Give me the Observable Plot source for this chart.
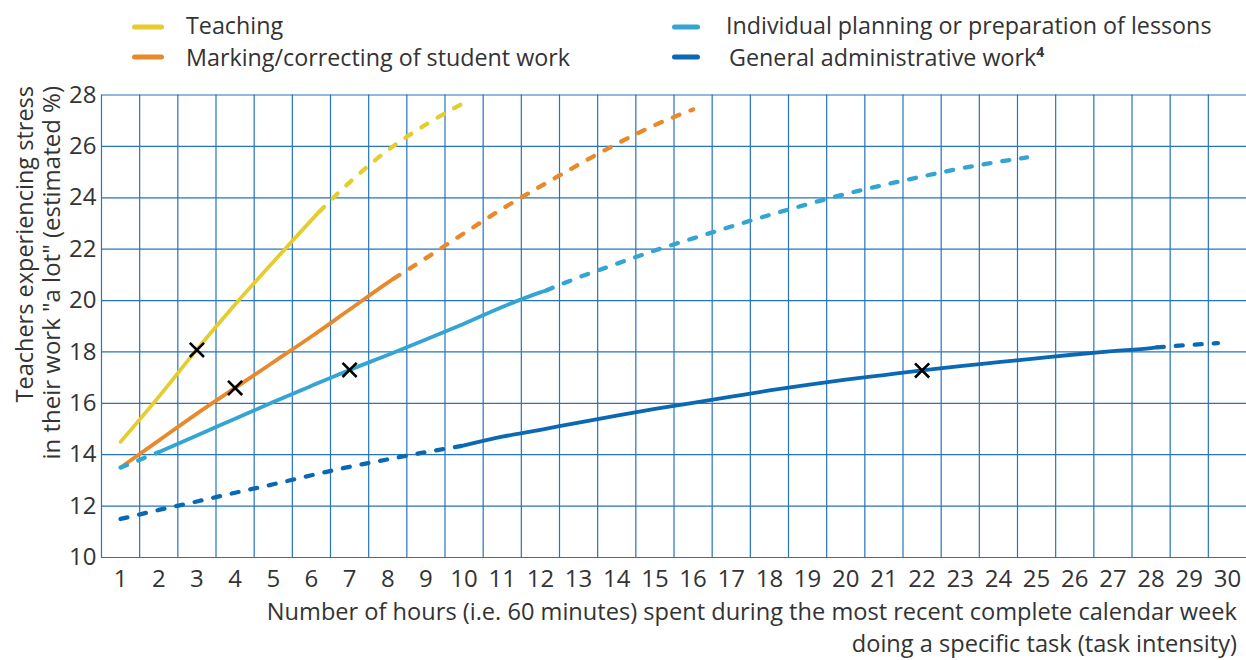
<!DOCTYPE html>
<html>
<head>
<meta charset="utf-8">
<script src="https://cdn.jsdelivr.net/npm/d3@7"></script>
<script src="https://cdn.jsdelivr.net/npm/@observablehq/plot@0.6"></script>
<style>
  html, body { margin: 0; padding: 0; background: #fff; }
  body { font-family: "Open Sans", sans-serif; color: #333; width: 1246px; }
  svg { display: block; }
</style>
</head>
<body>
<svg id="legend" width="1246" height="80"></svg>
<div id="chart"></div>
<script>
// ---------------- DATA ----------------
const xTicks = d3.range(1, 31);                 // 1 ... 30 hours
const yTicks = [10, 12, 14, 16, 18, 20, 22, 24, 26, 28];
const xLabelLines = [
  "Number of hours (i.e. 60 minutes) spent during the most recent complete calendar week",
  "doing a specific task (task intensity)"
];
const yLabelLines = [
  "Teachers experiencing stress",
  "in their work \"a lot\" (estimated %)"
];

// Teaching
const teachingHours  = [1, 2, 3, 4, 5, 6, 6.2, 7, 8, 9, 10];
const teachingStress = [14.5, 16.25, 18.1, 19.85, 21.5, 23.13, 23.45, 24.6, 25.85, 26.85, 27.7];
const teachingSolid  = [1, 6.2];

// Marking/correcting of student work
const markingHours  = [1, 2, 3, 4, 5, 6, 7, 8, 8.15, 9, 10, 11, 12, 13, 14, 15, 16];
const markingStress = [13.5, 14.55, 15.6, 16.6, 17.6, 18.6, 19.65, 20.7, 20.85, 21.65, 22.62, 23.57, 24.44, 25.29, 26.1, 26.83, 27.44];
const markingSolid  = [1, 8.15];

// Individual planning or preparation of lessons
const planningHours  = [1, 2, 3, 4, 5, 6, 7, 8, 9, 10, 11, 12, 12.15, 13, 14, 15, 16, 17, 18, 19, 20, 21, 22, 23, 24, 24.75];
const planningStress = [13.5, 14.1, 14.75, 15.4, 16.05, 16.68, 17.3, 17.88, 18.48, 19.1, 19.75, 20.32, 20.39, 20.9, 21.43, 21.95, 22.42, 22.88, 23.33, 23.75, 24.15, 24.5, 24.83, 25.14, 25.4, 25.57];
const planningSolid  = [2, 12.15];

// General administrative work
const adminHours  = [1, 2, 3, 4, 5, 6, 7, 8, 9, 10, 11, 12, 13, 14, 15, 16, 17, 18, 19, 20, 21, 22, 23, 24, 25, 26, 27, 28, 28.15, 29, 29.75];
const adminStress = [11.5, 11.85, 12.18, 12.52, 12.85, 13.2, 13.53, 13.82, 14.1, 14.36, 14.7, 14.97, 15.25, 15.52, 15.78, 16.02, 16.26, 16.5, 16.72, 16.92, 17.1, 17.28, 17.45, 17.6, 17.75, 17.9, 18.03, 18.15, 18.18, 18.27, 18.34];
const adminSolid  = [10, 28.15];

// Highlighted points (X markers)
const markerHours  = [3, 4, 7, 22];
const markerStress = [18.08, 16.6, 17.3, 17.28];

const seriesNames  = ["Teaching", "Marking/correcting of student work", "Individual planning or preparation of lessons", "General administrative work"];
const seriesColors = ["#e6cd2e", "#e8892b", "#34a5d2", "#0b69b3"];

// ---------------- BUILD ----------------
const seriesDefs = [
  {hours: teachingHours, stress: teachingStress, solid: teachingSolid},
  {hours: markingHours,  stress: markingStress,  solid: markingSolid},
  {hours: planningHours, stress: planningStress, solid: planningSolid},
  {hours: adminHours,    stress: adminStress,    solid: adminSolid}
];

const gridColor = "#2574bd";
const gridXTicks = d3.range(0.5, 30, 1); // cell borders between hour labels

const lineMarks = [];
seriesDefs.forEach((s, i) => {
  const pts = s.hours.map((h, j) => ({h, s: s.stress[j]}));
  const before = pts.filter(p => p.h <= s.solid[0]);
  const solid  = pts.filter(p => p.h >= s.solid[0] && p.h <= s.solid[1]);
  const after  = pts.filter(p => p.h >= s.solid[1]);
  const color = seriesColors[i];
  const dashOpts = {x: "h", y: "s", stroke: color, strokeWidth: 4.3, strokeDasharray: "7,12", strokeLinecap: "round", curve: "monotone-x"};
  if (before.length > 1) lineMarks.push(Plot.line(before, dashOpts));
  if (after.length > 1)  lineMarks.push(Plot.line(after, dashOpts));
  lineMarks.push(Plot.line(solid, {x: "h", y: "s", stroke: color, strokeWidth: 3.8, strokeLinecap: "round", curve: "monotone-x"}));
});

const markers = markerHours.map((h, i) => ({h, s: markerStress[i]}));

const plot = Plot.plot({
  width: 1246,
  height: 580,
  marginLeft: 101,
  marginRight: 0,
  marginTop: 14.5,
  marginBottom: 103,
  x: {domain: [0.5, 30.5]},
  y: {domain: [10, 28]},
  style: {fontFamily: '"Open Sans", sans-serif', fontSize: "24px", color: "#333", background: "white", overflow: "visible"},
  marks: [
    Plot.gridX(gridXTicks, {stroke: gridColor, strokeOpacity: 1, strokeWidth: 1.2}),
    Plot.gridY(yTicks, {stroke: gridColor, strokeOpacity: 1, strokeWidth: 1.2}),
    Plot.axisX(xTicks, {tickSize: 0, tickPadding: 12, label: null, fontSize: 24}),
    Plot.axisY(yTicks, {tickSize: 0, tickPadding: 5, label: null, fontSize: 24}),
    ...lineMarks,
    Plot.dot(markers, {x: "h", y: "s", symbol: "times", r: 6.5, stroke: "black", strokeWidth: 2.6})
  ]
});
document.getElementById("chart").appendChild(plot);

// axis titles
const svg = d3.select(plot);
const titleSize = 23.6;
svg.append("text")
  .attr("x", 1237).attr("y", 540)
  .attr("text-anchor", "end").attr("font-size", titleSize).attr("fill", "#333")
  .text(xLabelLines[0]);
svg.append("text")
  .attr("x", 1237).attr("y", 572)
  .attr("text-anchor", "end").attr("font-size", titleSize).attr("fill", "#333")
  .text(xLabelLines[1]);
svg.append("text")
  .attr("transform", "translate(33,6) rotate(-90)")
  .attr("text-anchor", "end").attr("font-size", 23.5).attr("fill", "#333")
  .text(yLabelLines[0]);
svg.append("text")
  .attr("transform", "translate(60,6) rotate(-90)")
  .attr("text-anchor", "end").attr("font-size", 24).attr("fill", "#333")
  .text(yLabelLines[1]);

// legend (above the chart)
const legend = d3.select("#legend").attr("font-family", '"Open Sans", sans-serif');
const legendPos = [
  {sx1: 134.5, sx2: 161.5, tx: 186, sy: 27, ty: 34},
  {sx1: 134.5, sx2: 161.5, tx: 186, sy: 57, ty: 66},
  {sx1: 674.5, sx2: 697.5, tx: 726, sy: 27, ty: 34},
  {sx1: 674.5, sx2: 697.5, tx: 729, sy: 57, ty: 66}
];
seriesNames.forEach((name, i) => {
  const p = legendPos[i];
  legend.append("line")
    .attr("x1", p.sx1).attr("x2", p.sx2).attr("y1", p.sy).attr("y2", p.sy)
    .attr("stroke", seriesColors[i]).attr("stroke-width", 5).attr("stroke-linecap", "round");
  const t = legend.append("text")
    .attr("x", p.tx).attr("y", p.ty).attr("font-size", 23.3).attr("fill", "#333")
    .text(name);
  if (i === 3) {
    t.append("tspan").attr("dy", -9).attr("font-size", 14).attr("font-weight", "bold").text("4");
  }
});
</script>
</body>
</html>
